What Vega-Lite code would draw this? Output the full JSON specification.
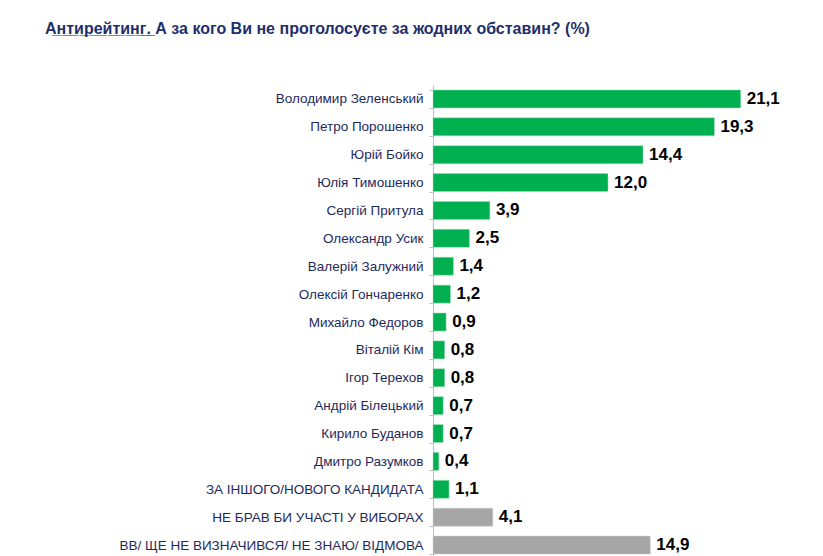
{
  "$schema": "https://vega.github.io/schema/vega-lite/v6.json",
  "autosize": "none",
  "width": 350,
  "height": 474,
  "padding": {"top": 85, "left": 433, "right": 40, "bottom": 0},
  "background": "white",
  "title": {
    "text": "А̲н̲т̲и̲р̲е̲й̲т̲и̲н̲г̲.̲ А за кого Ви не проголосуєте за жодних обставин? (%)",
    "font": "Liberation Sans",
    "fontSize": 16,
    "fontWeight": "bold",
    "color": "#1f2f6b",
    "anchor": "start",
    "frame": "group",
    "dx": -388,
    "offset": 41
  },
  "data": {
    "values": [
      {"name": "Володимир Зеленський", "value": 21.1, "label": "21,1", "group": "candidate"},
      {"name": "Петро Порошенко", "value": 19.3, "label": "19,3", "group": "candidate"},
      {"name": "Юрій Бойко", "value": 14.4, "label": "14,4", "group": "candidate"},
      {"name": "Юлія Тимошенко", "value": 12.0, "label": "12,0", "group": "candidate"},
      {"name": "Сергій Притула", "value": 3.9, "label": "3,9", "group": "candidate"},
      {"name": "Олександр Усик", "value": 2.5, "label": "2,5", "group": "candidate"},
      {"name": "Валерій Залужний", "value": 1.4, "label": "1,4", "group": "candidate"},
      {"name": "Олексій Гончаренко", "value": 1.2, "label": "1,2", "group": "candidate"},
      {"name": "Михайло Федоров", "value": 0.9, "label": "0,9", "group": "candidate"},
      {"name": "Віталій Кім", "value": 0.8, "label": "0,8", "group": "candidate"},
      {"name": "Ігор Терехов", "value": 0.8, "label": "0,8", "group": "candidate"},
      {"name": "Андрій Білецький", "value": 0.7, "label": "0,7", "group": "candidate"},
      {"name": "Кирило Буданов", "value": 0.7, "label": "0,7", "group": "candidate"},
      {"name": "Дмитро Разумков", "value": 0.4, "label": "0,4", "group": "candidate"},
      {"name": "ЗА ІНШОГО/НОВОГО КАНДИДАТА", "value": 1.1, "label": "1,1", "group": "candidate"},
      {"name": "НЕ БРАВ БИ УЧАСТІ У ВИБОРАХ", "value": 4.1, "label": "4,1", "group": "other"},
      {"name": "ВВ/ ЩЕ НЕ ВИЗНАЧИВСЯ/ НЕ ЗНАЮ/ ВІДМОВА", "value": 14.9, "label": "14,9", "group": "other"}
    ]
  },
  "encoding": {
    "y": {
      "field": "name",
      "type": "nominal",
      "sort": null,
      "scale": {"paddingInner": 0.355, "paddingOuter": 0.1775},
      "axis": {
        "title": null,
        "domainColor": "#bfbfbf",
        "tickColor": "#bfbfbf",
        "tickBand": "extent",
        "tickSize": 4,
        "labelFont": "Liberation Sans",
        "labelFontSize": 13.5,
        "labelColor": "#1f2a5c",
        "labelPadding": 6,
        "labelLimit": 400
      }
    },
    "x": {
      "field": "value",
      "type": "quantitative",
      "scale": {"domain": [0, 24]},
      "axis": null
    }
  },
  "layer": [
    {
      "mark": {"type": "bar", "strokeWidth": 1, "strokeOpacity": 0.5},
      "encoding": {
        "color": {
          "field": "group",
          "type": "nominal",
          "scale": {"domain": ["candidate", "other"], "range": ["#00b050", "#a6a6a6"]},
          "legend": null
        },
        "stroke": {
          "field": "group",
          "type": "nominal",
          "scale": {"domain": ["candidate", "other"], "range": ["#9fe0b8", "#d0d0d0"]},
          "legend": null
        }
      }
    },
    {
      "mark": {
        "type": "text",
        "align": "left",
        "baseline": "middle",
        "dx": 6,
        "font": "Liberation Sans",
        "fontSize": 17,
        "fontWeight": "bold",
        "color": "black"
      },
      "encoding": {"text": {"field": "label"}}
    }
  ],
  "config": {"view": {"stroke": null}}
}
